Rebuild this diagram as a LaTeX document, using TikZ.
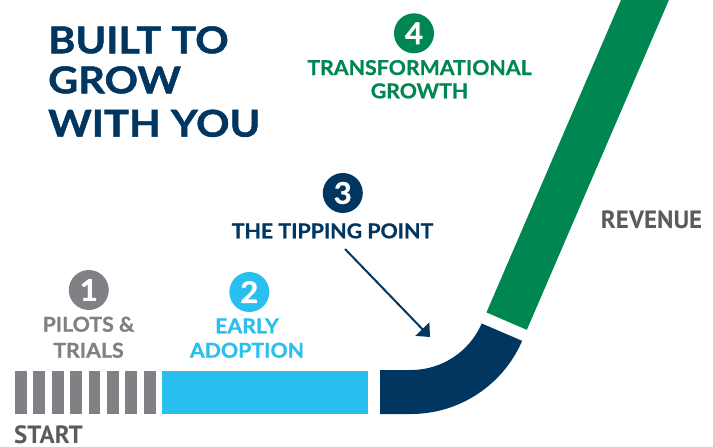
\documentclass[tikz,border=0pt]{standalone}
\usepackage{fontspec}
\setmainfont{Lato}
\newfontfamily\ttlfont{Lato}[BoldFeatures={FakeBold=1.2,FakeStretch=1.12}]
\newfontfamily\lblfont{Lato}[BoldFeatures={FakeBold=0.8,FakeStretch=1.04}]
\newfontfamily\ptsans{PT Sans}
\usetikzlibrary{arrows.meta,calc}
\definecolor{navy}{HTML}{003660}
\definecolor{grn}{HTML}{008751}
\definecolor{lblue}{HTML}{29BFEF}
\definecolor{barg}{HTML}{808184}
\definecolor{txtg}{HTML}{7F8083}
\definecolor{darkg}{HTML}{5A5B5D}
\tikzset{
  numcirc/.style={circle, minimum size=40pt, inner sep=0pt, text=white,
    font=\lblfont\fontsize{30}{30}\selectfont\bfseries},
  lbl/.style={anchor=base, inner sep=0pt, font=\lblfont\fontsize{20.5}{24}\selectfont\bfseries},
  ttl/.style={anchor=base west, inner sep=0pt, text=navy, font=\ttlfont\fontsize{37}{40}\selectfont\bfseries},
  axislbl/.style={anchor=base west, inner sep=0pt, text depth=0pt, text=darkg, font=\ptsans\fontsize{25}{25}\selectfont\bfseries},
  graybar/.style={fill=barg},
}
\begin{document}
\begin{tikzpicture}[x=1pt,y=-1pt]
\useasboundingbox (0,0) rectangle (713,447);
% title
\node[ttl] (t1) at (48,53.3) {BUILT TO};
\node[ttl] (t2) at (48,93.3) {GROW};
\node[ttl] (t3) at (48,136.7) {WITH YOU};
% gray bars
\foreach \i in {0,...,7}{
  \fill[graybar] (15+18.4*\i,371) rectangle ++(11.7,43);
}
% light blue bar
\fill[lblue] (162.3,371) rectangle (367.7,414);
% navy curve
\coordinate (c) at (411,293);
\fill[navy] (380,370) -- (411,370) arc[start angle=90, end angle=23.3, radius=77]
  -- ($(c)+(23.3:121)$) arc[start angle=23.3, end angle=90, radius=121]
  -- (380,414) -- cycle;
% green band
\begin{scope}
\clip (0,0) rectangle (713,447);
\coordinate (gl) at ($(c)+(23.3:77)+(-66.7:12)$);
\coordinate (gr) at ($(c)+(23.3:121)+(-66.7:12)$);
\fill[grn] (gl) -- (gr) -- ($(gr)+(-66.7:400)$) -- ($(gl)+(-66.7:400)$) -- cycle;
\end{scope}
% step 1
\node[numcirc, fill=barg] (n1) at (88.8,290) {1};
\node[lbl, text=txtg] (l1a) at (88.5,331.7) {PILOTS \&};
\node[lbl, text=txtg] (l1b) at (88.5,357.7) {TRIALS};
% step 2
\node[numcirc, fill=lblue] (n2) at (249.3,292) {2};
\node[lbl, text=lblue] (l2a) at (247,333.3) {EARLY};
\node[lbl, text=lblue] (l2b) at (247,357.7) {ADOPTION};
% step 3
\node[numcirc, fill=navy] (n3) at (342.8,193) {3};
\node[lbl, text=navy] (l3) at (332.5,238.3) {THE TIPPING POINT};
% step 4
\node[numcirc, fill=grn] (n4) at (414,33.3) {4};
\node[lbl, text=grn] (l4a) at (419.5,75) {TRANSFORMATIONAL};
\node[lbl, text=grn] (l4b) at (419.5,98.3) {GROWTH};
% arrow
\coordinate (as) at (345,249);
\coordinate (ae) at (430,337);
\draw[navy, line width=2pt, -{Triangle[length=11pt,width=19pt]}] (as) -- (ae);
% axis labels
\node[axislbl] (rev) at (600.7,228.3) {REVENUE};
\node[axislbl] (st) at (14,443) {START};
\end{tikzpicture}
\end{document}
